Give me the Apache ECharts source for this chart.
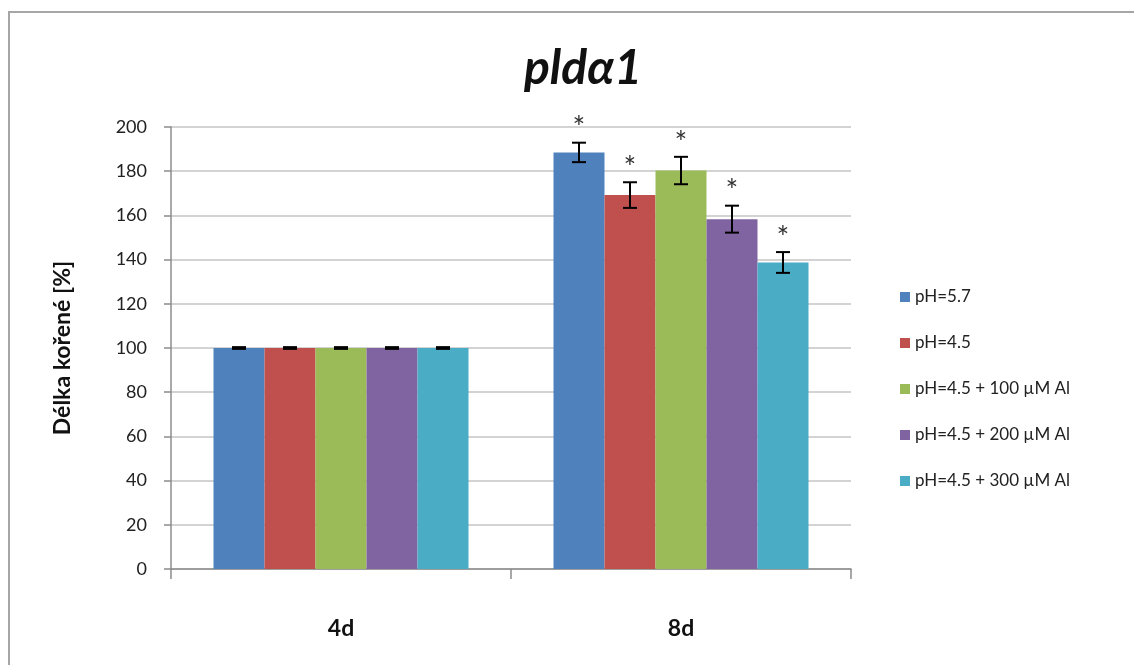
<!DOCTYPE html>
<html><head><meta charset="utf-8">
<script src="https://cdn.jsdelivr.net/npm/echarts@6/dist/echarts.min.js"></script>
<style>html,body{margin:0;padding:0;background:#fff}#c{width:1134px;height:665px}</style>
</head><body><div id="c"></div>
<script>
var categories = ['4d', '8d'];
var seriesNames = ['pH=5.7', 'pH=4.5', 'pH=4.5 + 100 µM Al', 'pH=4.5 + 200 µM Al', 'pH=4.5 + 300 µM Al'];
var valsPH57 = [100, 188.5];
var valsPH45 = [100, 169.2];
var valsAl100 = [100, 180.3];
var valsAl200 = [100, 158.3];
var valsAl300 = [100, 138.7];
var errPH57 = [0.4, 4.4];
var errPH45 = [0.4, 5.8];
var errAl100 = [0.4, 6.2];
var errAl200 = [0.4, 6.1];
var errAl300 = [0.4, 4.7];
var sigPH57 = [0, 1];
var sigPH45 = [0, 1];
var sigAl100 = [0, 1];
var sigAl200 = [0, 1];
var sigAl300 = [0, 1];
var yTicks = [0, 20, 40, 60, 80, 100, 120, 140, 160, 180, 200];
var colors = ['#4F81BD', '#C0504D', '#9BBB59', '#8064A2', '#4BACC6'];

var allVals = [valsPH57, valsPH45, valsAl100, valsAl200, valsAl300];
var allErr = [errPH57, errPH45, errAl100, errAl200, errAl300];
var allSig = [sigPH57, sigPH45, sigAl100, sigAl200, sigAl300];
var FONT = 'Lato, "Open Sans", sans-serif';
var nS = seriesNames.length;
var groupFrac = 0.75;

var series = [];
seriesNames.forEach(function (name, i) {
  series.push({
    name: name, type: 'bar', data: allVals[i], barGap: '0%', barCategoryGap: '25%',
    itemStyle: { color: colors[i] }, z: 2
  });
});
seriesNames.forEach(function (name, i) {
  var d = allVals[i].map(function (v, k) {
    return [k, v - allErr[i][k], v + allErr[i][k], allSig[i][k]];
  });
  series.push({
    type: 'custom', name: name + '_err', data: d, z: 5, silent: true,
    renderItem: (function (idx) {
      return function (params, api) {
        var cat = api.value(0);
        var lo = api.coord([cat, api.value(1)]);
        var hi = api.coord([cat, api.value(2)]);
        var cw = api.size([1, 0])[0];
        var bw = cw * groupFrac / nS;
        var x = lo[0] + (idx - (nS - 1) / 2) * bw;
        var cap = 7;
        var st = { stroke: '#000', lineWidth: 2 };
        var ch = [
          { type: 'line', shape: { x1: x, y1: lo[1], x2: x, y2: hi[1] }, style: st },
          { type: 'line', shape: { x1: x - cap, y1: lo[1], x2: x + cap, y2: lo[1] }, style: st },
          { type: 'line', shape: { x1: x - cap, y1: hi[1], x2: x + cap, y2: hi[1] }, style: st }
        ];
        if (api.value(3)) {
          ch.push({ type: 'text', x: x, y: hi[1] - 14,
            style: { text: '*', fill: '#333', font: '30px ' + FONT, align: 'center', verticalAlign: 'middle' } });
        }
        return { type: 'group', children: ch };
      };
    })(i)
  });
});

var chart = echarts.init(document.getElementById('c'));
chart.setOption({
  animation: false,
  backgroundColor: '#fff',
  graphic: [{ type: 'rect', shape: { x: 9, y: 12, width: 1300, height: 800 },
    style: { fill: 'none', stroke: '#a6a6a6', lineWidth: 2 }, z: -1 }],
  title: { text: 'pldα1', left: 578, top: 40, textAlign: 'center',
    textStyle: { fontFamily: FONT, fontStyle: 'italic', fontWeight: 'bold', fontSize: 48, color: '#111' } },
  legend: {
    orient: 'vertical', left: 895, top: 282, itemWidth: 10, itemHeight: 10, itemGap: 26,
    data: seriesNames, icon: 'rect',
    textStyle: { fontFamily: FONT, fontSize: 17, color: '#222', lineHeight: 20 }
  },
  grid: { left: 171, right: 283, top: 127, bottom: 96 },
  xAxis: {
    type: 'category', data: categories,
    axisLine: { lineStyle: { color: '#8c8c8c', width: 1.5 } },
    axisTick: { show: true, length: 10, lineStyle: { color: '#8c8c8c', width: 1.5 } },
    axisLabel: { margin: 48, fontFamily: FONT, fontWeight: 'bold', fontSize: 23, color: '#111' }
  },
  yAxis: {
    type: 'value', min: yTicks[0], max: yTicks[yTicks.length - 1], interval: yTicks[1] - yTicks[0],
    name: 'Délka kořené [%]', nameLocation: 'middle', nameGap: 97, nameRotate: 90,
    nameTextStyle: { fontFamily: FONT, fontWeight: 'bold', fontSize: 23, color: '#111' },
    axisLine: { show: true, lineStyle: { color: '#8c8c8c', width: 1.5 } },
    axisTick: { show: true, length: 7, lineStyle: { color: '#8c8c8c', width: 1.5 } },
    splitLine: { lineStyle: { color: '#c4c4c4', width: 1.5 } },
    axisLabel: { margin: 24, fontFamily: FONT, fontSize: 18, color: '#222' }
  },
  series: series
});
</script></body></html>
